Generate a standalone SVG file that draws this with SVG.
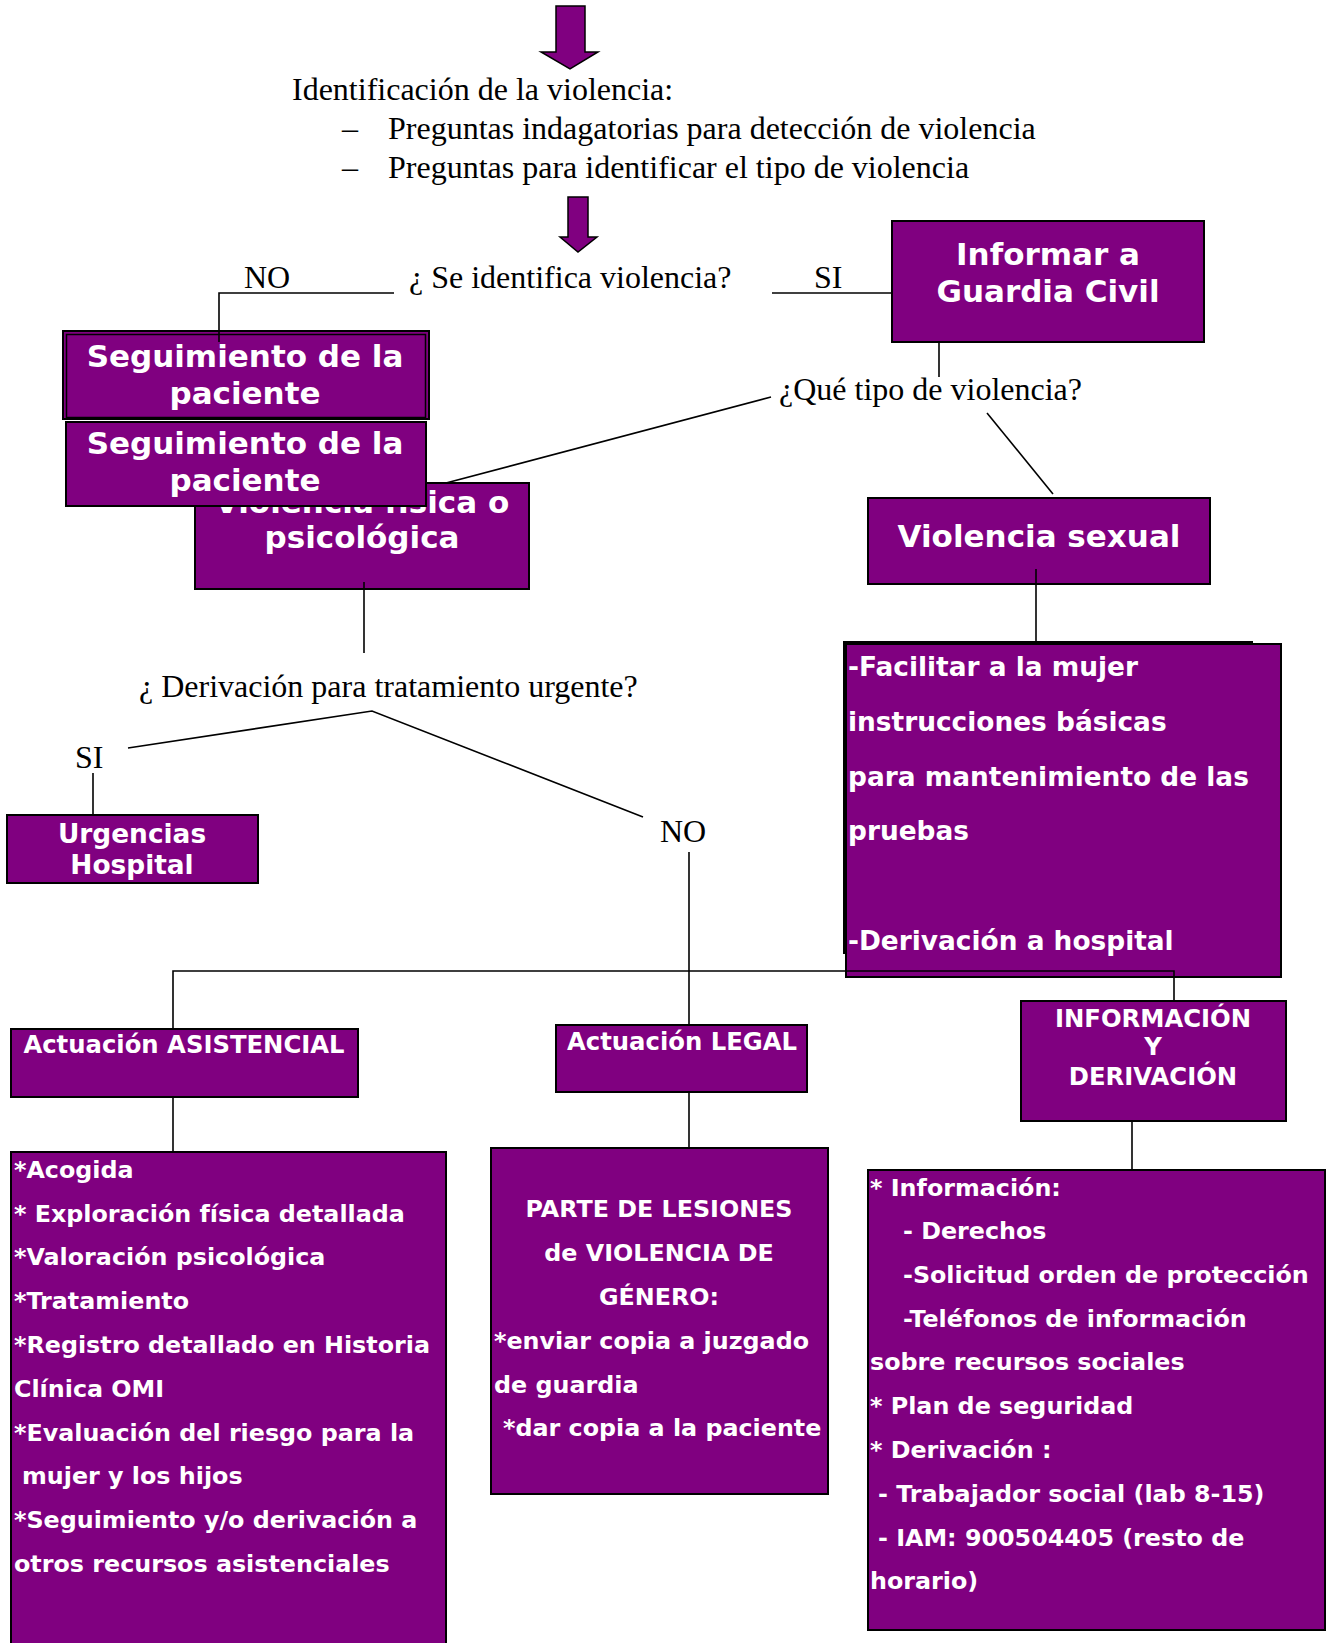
<svg xmlns="http://www.w3.org/2000/svg" width="1330" height="1643" viewBox="0 0 1330 1643">
<style>
.box{fill:#800080;stroke:#000;stroke-width:2}
.ser{font-family:"Liberation Serif","Times New Roman",serif;font-size:32px;fill:#000}
.b31{font-family:"DejaVu Sans",Verdana,sans-serif;font-weight:bold;font-size:31px;fill:#fff}
.b26{font-family:"DejaVu Sans",Verdana,sans-serif;font-weight:bold;font-size:26.4px;fill:#fff}
.b24{font-family:"DejaVu Sans",Verdana,sans-serif;font-weight:bold;font-size:23.8px;fill:#fff}
.h24{font-family:"DejaVu Sans",Verdana,sans-serif;font-weight:bold;font-size:24.3px;fill:#fff}
.mid{text-anchor:middle}
.ln{fill:none;stroke:#000;stroke-width:1.6}
.arrow{fill:#800080;stroke:#000;stroke-width:1.5}
</style>
<rect width="1330" height="1643" fill="#fff"/>

<g id="arrow-top">
<path class="arrow" d="M556,6 H585 V52 H598 L570,69 L541,52 H556 Z"/>
</g>
<g id="identificacion">
<text class="ser" x="292" y="100">Identificación de la violencia:</text>
<text class="ser" x="342" y="139">–</text>
<text class="ser" x="388" y="139">Preguntas indagatorias para detección de violencia</text>
<text class="ser" x="342" y="178">–</text>
<text class="ser" x="388" y="178">Preguntas para identificar el tipo de violencia</text>
</g>
<g id="arrow-2">
<path class="arrow" d="M568,197 H588 V237 H597 L578,252 L560,237 H568 Z"/>
</g>
<g id="q-identifica">
<text class="ser" x="409" y="288">¿ Se identifica violencia?</text>
</g>
<g id="lbl-no-1"><text class="ser" x="244" y="288">NO</text></g>
<g id="lbl-si-1"><text class="ser" x="814" y="288">SI</text></g>

<g id="informar">
<rect class="box" x="892" y="221" width="312" height="121"/>
<text class="b31 mid" x="1048" y="265">Informar a</text>
<text class="b31 mid" x="1048" y="302">Guardia Civil</text>
</g>

<g id="q-tipo">
<text class="ser" x="779" y="400">¿Qué tipo de violencia?</text>
</g>

<g id="fisica">
<rect class="box" x="195" y="483" width="334" height="106"/>
<text class="b31 mid" x="362" y="513">Violencia física o</text>
<text class="b31 mid" x="362" y="548">psicológica</text>
</g>

<g id="seguimiento-1">
<rect class="box" x="63" y="331" width="366" height="88" stroke-width="2.5"/>
<rect x="66.5" y="334.5" width="359" height="83" fill="none" stroke="#000" stroke-width="1.5"/>
<text class="b31 mid" x="245" y="367">Seguimiento de la</text>
<text class="b31 mid" x="245" y="404">paciente</text>
</g>

<g id="seguimiento-2">
<rect class="box" x="66" y="422" width="360" height="84"/>
<text class="b31 mid" x="245" y="454">Seguimiento de la</text>
<text class="b31 mid" x="245" y="491">paciente</text>
</g>

<g id="sexual">
<rect class="box" x="868" y="498" width="342" height="86"/>
<text class="b31 mid" x="1039" y="547" font-size="31.5">Violencia sexual</text>
</g>

<g id="facilitar">
<rect class="box" x="844" y="642" width="408" height="311" stroke-width="2.5"/>
<rect class="box" x="846" y="644" width="435" height="333" stroke-width="2.5"/>
<text class="b26" x="848" y="676">-Facilitar a la mujer</text>
<text class="b26" x="848" y="731">instrucciones básicas</text>
<text class="b26" x="848" y="786">para mantenimiento de las</text>
<text class="b26" x="848" y="840">pruebas</text>
<text class="b26" x="848" y="950">-Derivación a hospital</text>
</g>

<g id="q-derivacion">
<text class="ser" x="139" y="697">¿ Derivación para tratamiento urgente?</text>
</g>
<g id="lbl-si-2"><text class="ser" x="75" y="768">SI</text></g>
<g id="lbl-no-2"><text class="ser" x="660" y="842">NO</text></g>

<g id="urgencias">
<rect class="box" x="7" y="815" width="251" height="68"/>
<text class="b26 mid" x="132" y="843">Urgencias</text>
<text class="b26 mid" x="132" y="874">Hospital</text>
</g>

<g id="act-asistencial">
<rect class="box" x="11" y="1029" width="347" height="68"/>
<text class="h24 mid" x="184" y="1053">Actuación ASISTENCIAL</text>
</g>

<g id="act-legal">
<rect class="box" x="556" y="1025" width="251" height="67"/>
<text class="h24 mid" x="682" y="1050">Actuación LEGAL</text>
</g>

<g id="info-deriv">
<rect class="box" x="1021" y="1001" width="265" height="120"/>
<text class="h24 mid" x="1153" y="1027">INFORMACIÓN</text>
<text class="h24 mid" x="1153" y="1055">Y</text>
<text class="h24 mid" x="1153" y="1085">DERIVACIÓN</text>
</g>

<g id="asistencial-detalle">
<rect class="box" x="11" y="1152" width="435" height="520"/>
<text class="b24" x="14" y="1178">*Acogida</text>
<text class="b24" x="14" y="1222">*  Exploración física detallada</text>
<text class="b24" x="14" y="1265">*Valoración psicológica</text>
<text class="b24" x="14" y="1309">*Tratamiento</text>
<text class="b24" x="14" y="1353">*Registro detallado en Historia</text>
<text class="b24" x="14" y="1397">Clínica OMI</text>
<text class="b24" x="14" y="1441">*Evaluación del riesgo para la</text>
<text class="b24" x="22" y="1484">mujer y los hijos</text>
<text class="b24" x="14" y="1528">*Seguimiento y/o derivación a</text>
<text class="b24" x="14" y="1572">otros recursos asistenciales</text>
</g>

<g id="legal-detalle">
<rect class="box" x="491" y="1148" width="337" height="346"/>
<text class="b24 mid" x="659" y="1217">PARTE DE LESIONES</text>
<text class="b24 mid" x="659" y="1261">de VIOLENCIA DE</text>
<text class="b24 mid" x="659" y="1305">GÉNERO:</text>
<text class="b24" x="494" y="1349">*enviar copia a juzgado</text>
<text class="b24" x="494" y="1393">de guardia</text>
<text class="b24" x="503" y="1436">*dar copia a la paciente</text>
</g>

<g id="info-detalle">
<rect class="box" x="868" y="1170" width="457" height="460"/>
<text class="b24" x="870" y="1196">* Información:</text>
<text class="b24" x="903" y="1239">- Derechos</text>
<text class="b24" x="903" y="1283">-Solicitud orden de protección</text>
<text class="b24" x="903" y="1327">-Teléfonos de información</text>
<text class="b24" x="870" y="1370">sobre recursos sociales</text>
<text class="b24" x="870" y="1414">* Plan de seguridad</text>
<text class="b24" x="870" y="1458">* Derivación :</text>
<text class="b24" x="878" y="1502">- Trabajador social (lab 8-15)</text>
<text class="b24" x="878" y="1546">- IAM: 900504405 (resto de</text>
<text class="b24" x="870" y="1589">horario)</text>
</g>

<g id="connectors">
<polyline class="ln" points="394,293 219,293 219,342"/>
<line class="ln" x1="772" y1="293" x2="891" y2="293"/>
<line class="ln" x1="939" y1="342" x2="939" y2="377"/>
<line class="ln" x1="771" y1="397" x2="446" y2="483"/>
<line class="ln" x1="987" y1="413" x2="1053" y2="494"/>
<line class="ln" x1="1036" y1="569" x2="1036" y2="642"/>
<line class="ln" x1="364" y1="582" x2="364" y2="653"/>
<polyline class="ln" points="128,748 372,711 643,817"/>
<line class="ln" x1="93" y1="773" x2="93" y2="815"/>
<line class="ln" x1="689" y1="852" x2="689" y2="1025"/>
<polyline class="ln" points="173,1028 173,971 1174,971 1174,1001"/>
<line class="ln" x1="173" y1="1097" x2="173" y2="1152"/>
<line class="ln" x1="689" y1="1092" x2="689" y2="1148"/>
<line class="ln" x1="1132" y1="1121" x2="1132" y2="1170"/>
</g>
</svg>
